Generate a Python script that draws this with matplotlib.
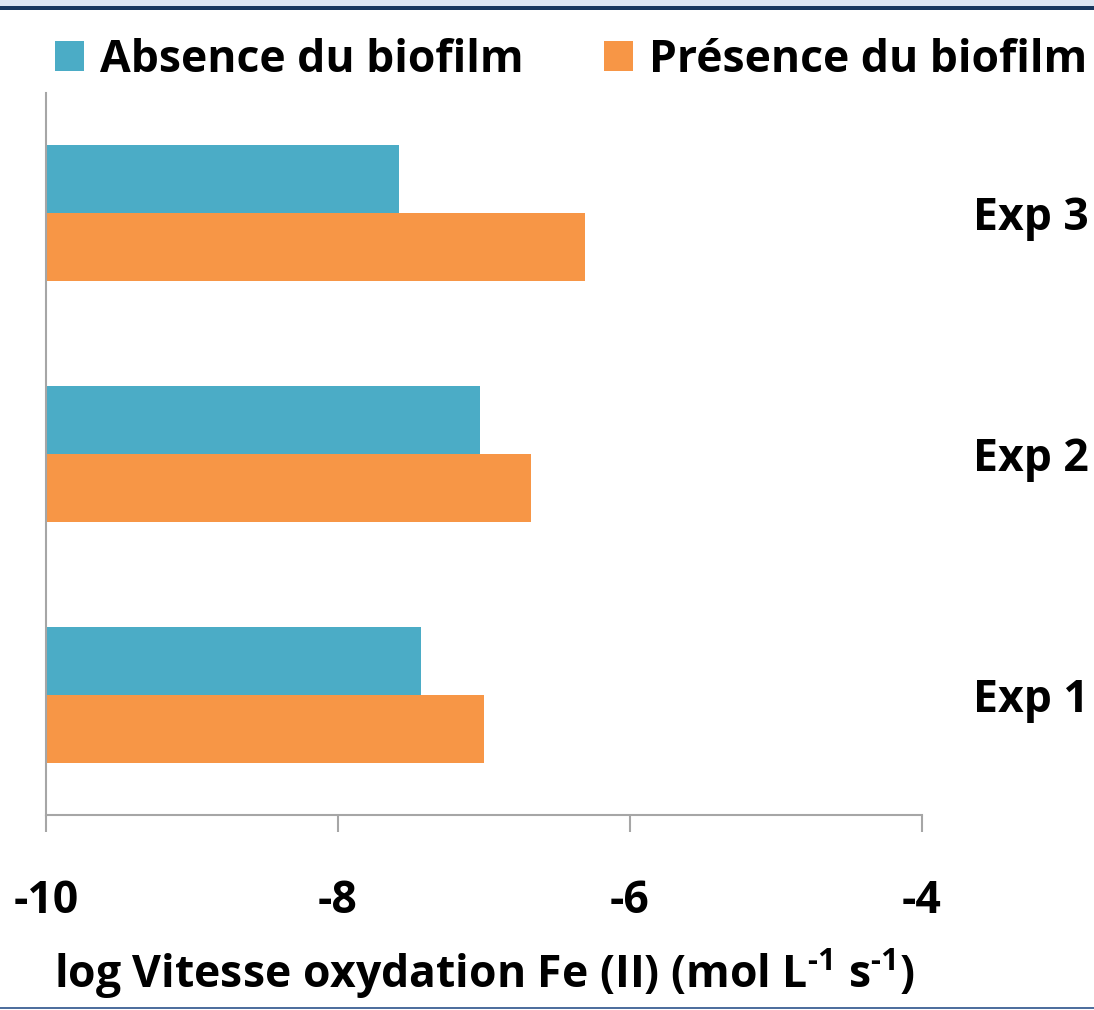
import matplotlib
matplotlib.use("Agg")
import matplotlib.pyplot as plt
from matplotlib.patches import Patch, Rectangle
import numpy as np

categories = ["Exp 1", "Exp 2", "Exp 3"]
absence = [-7.43, -7.03, -7.58]
presence = [-7.00, -6.68, -6.31]
series_names = ["Absence du biofilm", "Présence du biofilm"]
xticks = [-10, -8, -6, -4]
xlabel = r"log Vitesse oxydation Fe (II) (mol L$^{\text{-1}}$ s$^{\text{-1}}$)"

blue = "#4BACC6"
orange = "#F79646"
grey = "#A6A6A6"

FAM = 'Open Sans'
plt.rcParams['font.family'] = [FAM, 'DejaVu Sans']
plt.rcParams['font.weight'] = 'bold'
plt.rcParams['axes.unicode_minus'] = False
plt.rcParams['mathtext.fontset'] = 'custom'
plt.rcParams['mathtext.rm'] = FAM + ':bold'
plt.rcParams['mathtext.it'] = FAM + ':bold'
plt.rcParams['mathtext.bf'] = FAM + ':bold'
plt.rcParams['mathtext.default'] = 'rm'

W, H = 1094, 1010
fig = plt.figure(figsize=(W / 100, H / 100), dpi=100)
ax = fig.add_axes([46 / W, (H - 815) / H, (922 - 46) / W, (815 - 93) / H])

fs = 32
base = -10
h = 0.283
y = np.arange(len(categories))
ax.barh(y + h / 2, np.array(absence) - base, height=h, left=base, color=blue, edgecolor='none')
ax.barh(y - h / 2, np.array(presence) - base, height=h, left=base, color=orange, edgecolor='none')

ax.set_xlim(-10, -4)
ax.set_ylim(-0.5, len(categories) - 0.5)
ax.set_xticks(xticks)
ax.set_xticklabels([str(t) for t in xticks], fontsize=fs, fontweight='bold')
ax.tick_params(axis='x', direction='out', length=12, width=1.5, color=grey, pad=34)

ax.yaxis.tick_right()
ax.set_yticks(y)
ax.set_yticklabels(categories, fontsize=fs, fontweight='bold')
ax.tick_params(axis='y', length=0, pad=37)

for s in ['top', 'right']:
    ax.spines[s].set_visible(False)
for s in ['left', 'bottom']:
    ax.spines[s].set_color(grey)
    ax.spines[s].set_linewidth(1.5)

ax.set_xlabel(xlabel, fontsize=fs, fontweight='bold', labelpad=16)

handles = [Patch(facecolor=blue, edgecolor='none'), Patch(facecolor=orange, edgecolor='none')]
fig.legend(handles, series_names, loc='center', bbox_to_anchor=(571 / W, 1 - 60 / H),
           ncol=2, frameon=False, prop={'size': fs, 'weight': 'bold'},
           handlelength=0.65, handleheight=0.65, handletextpad=0.36, columnspacing=1.8)

fig.add_artist(Rectangle((0, 1 - 7 / H), 1, 7 / H, transform=fig.transFigure, color="#DCE6F2", lw=0))
fig.add_artist(Rectangle((0, 1 - 10 / H), 1, 3.5 / H, transform=fig.transFigure, color="#17375E", lw=0))
fig.add_artist(Rectangle((0, 1 / H), 1, 2.5 / H, transform=fig.transFigure, color="#4F6F9E", lw=0))

fig.savefig("out.png", dpi=100)
